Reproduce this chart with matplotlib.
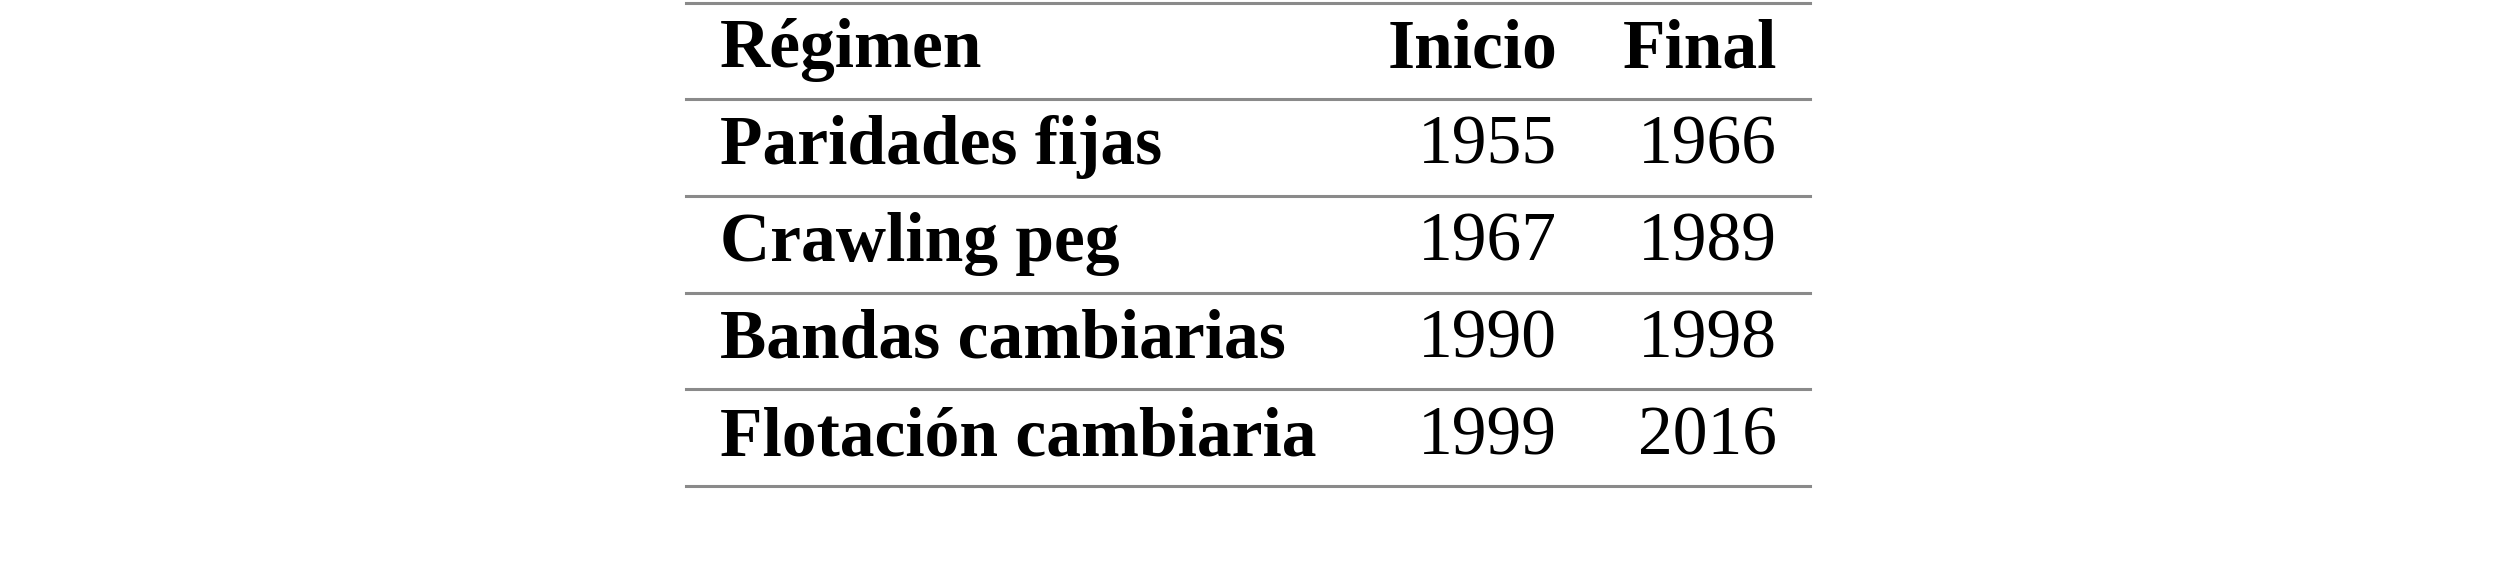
import matplotlib.pyplot as plt

headers = ['Régimen', 'Inicio', 'Final']
regimes = ['Paridades fijas', 'Crawling peg', 'Bandas cambiarias', 'Flotación cambiaria']
start_years = [1955, 1967, 1990, 1999]
end_years = [1966, 1989, 1998, 2016]

W, H = 2500, 570
fig = plt.figure(figsize=(25, 5.7), dpi=100)
ax = fig.add_axes([0, 0, 1, 1])
ax.set_xlim(0, W)
ax.set_ylim(H, 0)
ax.axis('off')

font = dict(family='Liberation Serif', fontsize=50, va='center')
x_left, x_start, x_end = 720, 1557, 1777
line_y = [3, 99, 196, 293, 389, 486]
row_y = [50, 147, 244, 341, 438]

for y in line_y:
    ax.plot([686, 1810], [y, y], color='#8a8a8a', lw=2.2)

ax.text(x_left, row_y[0], headers[0], ha='left', weight='bold', **font)
ax.text(x_start, row_y[0], headers[1], ha='right', weight='bold', **font)
ax.text(x_end, row_y[0], headers[2], ha='right', weight='bold', **font)

for i, name in enumerate(regimes):
    y = row_y[i + 1]
    ax.text(x_left, y, name, ha='left', weight='bold', **font)
    ax.text(x_start, y, str(start_years[i]), ha='right', **font)
    ax.text(x_end, y, str(end_years[i]), ha='right', **font)

fig.savefig('out.png', dpi=100)
